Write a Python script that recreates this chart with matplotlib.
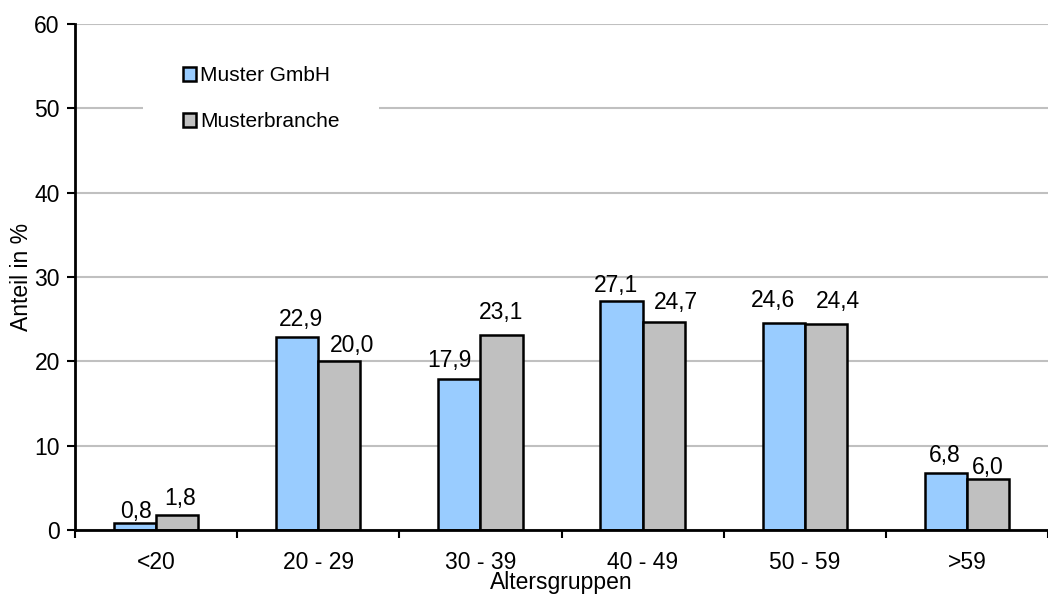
import matplotlib.pyplot as plt
import numpy as np

plt.rcParams['font.family'] = ['Liberation Sans', 'DejaVu Sans']

gruppen = ['<20', '20 - 29', '30 - 39', '40 - 49', '50 - 59', '>59']
muster_gmbh = [0.8, 22.9, 17.9, 27.1, 24.6, 6.8]
musterbranche = [1.8, 20.0, 23.1, 24.7, 24.4, 6.0]

# Versatz der Wertbeschriftungen (Punkte), damit sich Nachbarn nicht berühren
versatz_gmbh = [(1, 4), (3, 8), (-7, 9), (-4, 7), (-8, 11), (-1, 8)]
versatz_branche = [(2, 7), (9, 7), (0, 12), (9, 9), (9, 12), (0, 4)]

fs = 16.5

fig = plt.figure(figsize=(10.48, 5.96), dpi=100)
ax = fig.add_axes([0.0716, 0.1107, 0.9284, 0.849])

x = np.arange(len(gruppen))
w = 0.26

b1 = ax.bar(x - w / 2, muster_gmbh, w, color='#99ccff', edgecolor='black',
            linewidth=1.8, label='Muster GmbH', zorder=3)
b2 = ax.bar(x + w / 2, musterbranche, w, color='#c0c0c0', edgecolor='black',
            linewidth=1.8, label='Musterbranche', zorder=3)

# Werte über den Balken, mit Dezimalkomma
for bars, vals, versatz in ((b1, muster_gmbh, versatz_gmbh),
                            (b2, musterbranche, versatz_branche)):
    for bar, v, off in zip(bars, vals, versatz):
        ax.annotate(f'{v:.1f}'.replace('.', ','),
                    (bar.get_x() + bar.get_width() / 2, v),
                    xytext=off, textcoords='offset points',
                    ha='center', va='baseline', fontsize=fs, zorder=4)

ax.set_ylim(0, 60)
ax.set_yticks(range(0, 61, 10))
ax.set_xlim(-0.5, 5.42)
ax.set_xticks(x)
ax.set_xticklabels(gruppen)
ax.set_xticks(np.arange(-0.5, 6, 1), minor=True)
ax.tick_params(axis='x', which='major', length=0, pad=15, labelsize=fs)
ax.tick_params(axis='x', which='minor', length=6, width=1.5, direction='out')
ax.tick_params(axis='y', length=6, width=1.5, labelsize=fs, pad=5)

ax.grid(axis='y', color='#c0c0c0', linewidth=1.5, zorder=0)
ax.set_axisbelow(True)
for s in ('top', 'right'):
    ax.spines[s].set_visible(False)
for s in ('left', 'bottom'):
    ax.spines[s].set_linewidth(2)
    ax.spines[s].set_zorder(5)

ax.set_ylabel('Anteil in %', fontsize=fs, labelpad=1)
ax.set_xlabel('Altersgruppen', fontsize=fs, labelpad=-2)

leg = ax.legend(loc='upper left', bbox_to_anchor=(0.07, 0.995), fontsize=15,
                frameon=True, facecolor='white', edgecolor='none', framealpha=1,
                fancybox=False, handlelength=0.62, handleheight=0.62,
                handletextpad=0.2, labelspacing=1.3, borderpad=1.9,
                borderaxespad=0)
for h in leg.legend_handles:
    h.set_linewidth(1.8)

fig.savefig('out.png', dpi=100, facecolor='white')
